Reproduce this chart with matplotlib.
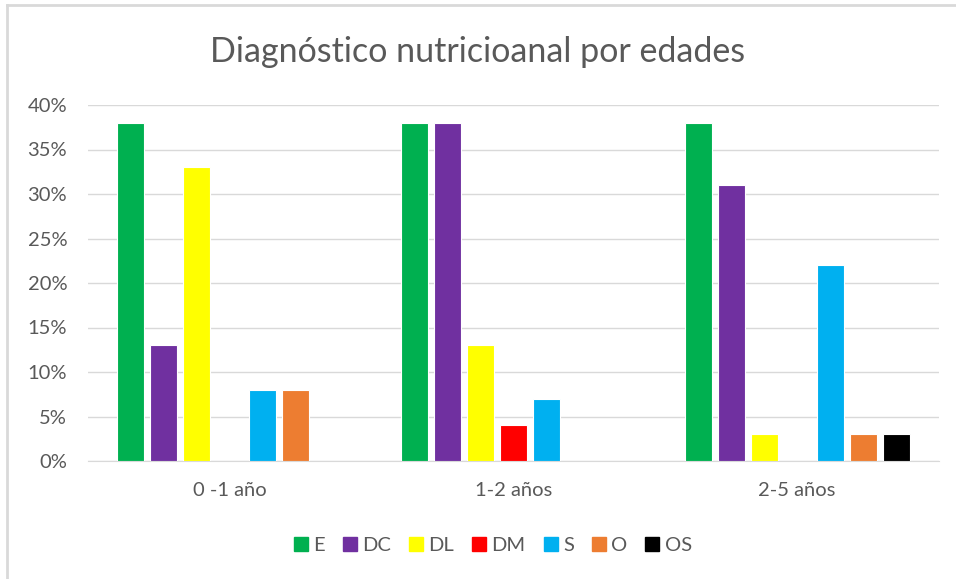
import matplotlib.pyplot as plt
from matplotlib.lines import Line2D
from matplotlib.ticker import PercentFormatter
import numpy as np

plt.rcParams['font.family'] = ['Lato', 'DejaVu Sans']

# Age groups and series (% of children per diagnosis)
groups = ['0 -1 año', '1-2 años', '2-5 años']
series = ['E', 'DC', 'DL', 'DM', 'S', 'O', 'OS']
colors = ['#00B050', '#7030A0', '#FFFF00', '#FF0000', '#00B0F0', '#ED7D31', '#000000']

E = [38, 38, 38]
DC = [13, 38, 31]
DL = [33, 13, 3]
DM = [0, 4, 0]
S = [8, 7, 22]
O = [8, 0, 3]
OS = [0, 0, 3]
values = [E, DC, DL, DM, S, O, OS]

text_color = '#595959'
grid_color = '#D9D9D9'

fig = plt.figure(figsize=(9.56, 5.79), dpi=100)
ax = fig.add_axes([88 / 956, 1 - 461 / 579, (939 - 88) / 956, (461 - 105) / 579])

x = np.arange(len(groups))
slot = 33 / 284
width = 27 / 284
for i, (name, vals, c) in enumerate(zip(series, values, colors)):
    offset = (i - (len(series) - 1) / 2) * slot
    ax.bar(x + offset, vals, width, color=c, edgecolor='white', linewidth=0.8, zorder=3)

ax.set_xlim(-0.5, 2.5)
ax.set_ylim(0, 40)
ax.set_yticks(range(0, 41, 5))
ax.yaxis.set_major_formatter(PercentFormatter(decimals=0))
ax.set_xticks(x)
ax.set_xticklabels(groups)
ax.tick_params(axis='both', length=0, labelsize=14.5, colors=text_color)
ax.tick_params(axis='x', pad=15)
ax.tick_params(axis='y', pad=15)
ax.grid(axis='y', color=grid_color, linewidth=1, zorder=0)
for side in ['top', 'right', 'left']:
    ax.spines[side].set_visible(False)
ax.spines['bottom'].set_color(grid_color)

fig.text(0.5, 1 - 52 / 579, 'Diagnóstico nutricioanal por edades', ha='center', va='center',
         fontsize=24.5, color=text_color)

handles = [Line2D([], [], marker='s', linestyle='none', markersize=10,
                  markerfacecolor=c, markeredgecolor=c) for c in colors]
fig.legend(handles, series, loc='center', bbox_to_anchor=(492 / 956, 1 - 545 / 579),
           ncol=len(series), frameon=False, fontsize=14.5, labelcolor=text_color,
           handletextpad=0.15, columnspacing=0.8, handlelength=0.9)

# light chart-area border (left and top edges)
fig.add_artist(Line2D([7 / 956, 7 / 956], [0, 1 - 5 / 579], color=grid_color, linewidth=2))
fig.add_artist(Line2D([7 / 956, 1], [1 - 5 / 579, 1 - 5 / 579], color=grid_color, linewidth=2))

fig.savefig('out.png', dpi=100, facecolor='white')
